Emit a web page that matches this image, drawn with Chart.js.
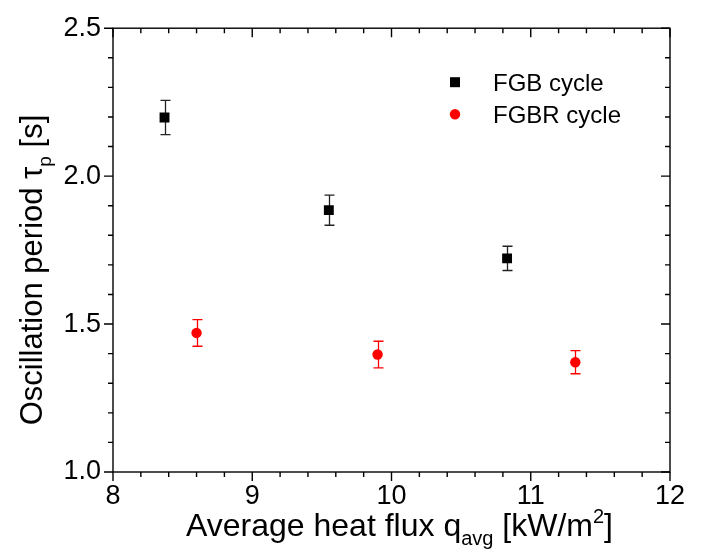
<!DOCTYPE html>
<html>
<head>
<meta charset="utf-8">
<script src="https://cdn.jsdelivr.net/npm/chart.js@4.4.1/dist/chart.umd.min.js"></script>
<style>
  html, body { margin: 0; padding: 0; background: #fff; }
</style>
</head>
<body>
<canvas id="chart" width="701" height="550"></canvas>
<script>
// Values
const seriesNames = ['FGB cycle', 'FGBR cycle'];
const fgbFlux = [8.37, 9.55, 10.83];
const fgbPeriod = [2.198, 1.885, 1.722];
const fgbError = [0.058, 0.051, 0.041];
const fgbrFlux = [8.60, 9.90, 11.32];
const fgbrPeriod = [1.470, 1.397, 1.371];
const fgbrError = [0.045, 0.045, 0.039];
const xTicks = [8, 9, 10, 11, 12];
const yTicks = [1.0, 1.5, 2.0, 2.5];

const FONT = '"Liberation Sans", Arial, sans-serif';

const toPoints = (xs, ys) => xs.map((x, i) => ({ x: x, y: ys[i] }));

// draw text made of normal / sub / sup pieces, centred on 0
function richText(ctx, parts, size) {
    const small = Math.round(size * 0.62);
    let total = 0;
    parts.forEach(p => {
        ctx.font = (p.sub || p.sup ? small : size) + 'px ' + FONT;
        p.w = ctx.measureText(p.t).width;
        total += p.w;
    });
    let cx = -total / 2;
    parts.forEach(p => {
        ctx.font = (p.sub || p.sup ? small : size) + 'px ' + FONT;
        let dy = 0;
        if (p.sub) dy = size * 0.28;
        if (p.sup) dy = -size * 0.42;
        ctx.fillText(p.t, cx, dy);
        cx += p.w;
    });
}

const errorBars = {
    id: 'errorBars',
    beforeDatasetsDraw(chart) {
        const { ctx, scales: { x, y } } = chart;
        ctx.save();
        ctx.lineWidth = 1.3;
        chart.data.datasets.forEach(ds => {
            ctx.strokeStyle = ds.errColor;
            ds.data.forEach((p, i) => {
                const px = Math.round(x.getPixelForValue(p.x)) + 0.5;
                const top = y.getPixelForValue(p.y + ds.errors[i]);
                const bot = y.getPixelForValue(p.y - ds.errors[i]);
                ctx.beginPath();
                ctx.moveTo(px, top); ctx.lineTo(px, bot);
                ctx.moveTo(px - 5, top); ctx.lineTo(px + 5, top);
                ctx.moveTo(px - 5, bot); ctx.lineTo(px + 5, bot);
                ctx.stroke();
            });
        });
        ctx.restore();
    }
};

const frame = {
    id: 'frame',
    afterDraw(chart) {
        const { ctx, chartArea: a, scales: { x, y } } = chart;
        ctx.save();
        ctx.strokeStyle = '#000';
        ctx.lineWidth = 1.4;
        ctx.strokeRect(a.left, a.top, a.right - a.left, a.bottom - a.top);

        // ticks: bottom/left point out, top/right point in
        ctx.beginPath();
        for (let k = 0; k < xTicks.length; k++) {
            const step = k < xTicks.length - 1 ? (xTicks[k + 1] - xTicks[k]) / 5 : 0;
            for (let m = 0; m < (step ? 5 : 1); m++) {
                const px = x.getPixelForValue(xTicks[k] + m * step);
                const len = m === 0 ? 9 : 5;
                ctx.moveTo(px, a.bottom); ctx.lineTo(px, a.bottom + len);
                ctx.moveTo(px, a.top); ctx.lineTo(px, a.top + len);
            }
        }
        for (let k = 0; k < yTicks.length; k++) {
            const step = k < yTicks.length - 1 ? (yTicks[k + 1] - yTicks[k]) / 5 : 0;
            for (let m = 0; m < (step ? 5 : 1); m++) {
                const py = y.getPixelForValue(yTicks[k] + m * step);
                const len = m === 0 ? 9 : 5;
                ctx.moveTo(a.left, py); ctx.lineTo(a.left - len, py);
                ctx.moveTo(a.right, py); ctx.lineTo(a.right - len, py);
            }
        }
        ctx.stroke();

        // axis titles
        ctx.fillStyle = '#000';
        ctx.textBaseline = 'alphabetic';
        ctx.textAlign = 'left';
        ctx.save();
        ctx.translate((a.left + a.right) / 2 + 8, 536);
        richText(ctx, [{ t: 'Average heat flux q' }, { t: 'avg', sub: true },
            { t: ' [kW/m' }, { t: '2', sup: true }, { t: ']' }], 32);
        ctx.restore();

        ctx.save();
        ctx.translate(42, 270);
        ctx.rotate(-Math.PI / 2);
        richText(ctx, [{ t: 'Oscillation period \u03c4' }, { t: 'p', sub: true },
            { t: ' [s]' }], 31);
        ctx.restore();

        // legend inside the plot
        chart.data.datasets.forEach((ds, i) => {
            const ly = a.top + 54 + i * 32;
            const lx = a.right - 215;
            ctx.fillStyle = ds.backgroundColor;
            ctx.beginPath();
            if (ds.pointStyle === 'rect') ctx.rect(lx - 5, ly - 5, 10, 10);
            else ctx.arc(lx, ly, 5.2, 0, Math.PI * 2);
            ctx.fill();
            ctx.fillStyle = '#000';
            ctx.font = '24px ' + FONT;
            ctx.fillText(ds.label, lx + 38, ly + 8.5);
        });
        ctx.restore();
    }
};

new Chart(document.getElementById('chart'), {
    type: 'scatter',
    data: {
        datasets: [
            {
                label: seriesNames[0], data: toPoints(fgbFlux, fgbPeriod), errors: fgbError,
                pointStyle: 'rect', pointRadius: 7, backgroundColor: '#000000',
                borderColor: '#000000', borderWidth: 0, errColor: '#222222'
            },
            {
                label: seriesNames[1], data: toPoints(fgbrFlux, fgbrPeriod), errors: fgbrError,
                pointStyle: 'circle', pointRadius: 5.2, backgroundColor: '#ff0000',
                borderColor: '#ff0000', borderWidth: 0, errColor: '#ff0000'
            }
        ]
    },
    options: {
        responsive: false,
        animation: false,
        layout: { padding: { left: 0, right: 31, top: 18, bottom: 0 } },
        plugins: { legend: { display: false }, tooltip: { enabled: false } },
        scales: {
            x: {
                type: 'linear', min: 8, max: 12,
                afterBuildTicks: s => { s.ticks = xTicks.map(v => ({ value: v })); },
                afterFit: s => { s.height = 78; },
                grid: { display: false, drawTicks: false },
                border: { display: false },
                ticks: { color: '#000', padding: 8, font: { family: FONT, size: 27 } }
            },
            y: {
                type: 'linear', min: 1.0, max: 2.5,
                afterBuildTicks: s => { s.ticks = yTicks.map(v => ({ value: v })); },
                afterFit: s => { s.width = 113; },
                grid: { display: false, drawTicks: false },
                border: { display: false },
                ticks: {
                    color: '#000', padding: 12, font: { family: FONT, size: 27 },
                    callback: v => v.toFixed(1)
                }
            }
        }
    },
    plugins: [errorBars, frame]
});
</script>
</body>
</html>
